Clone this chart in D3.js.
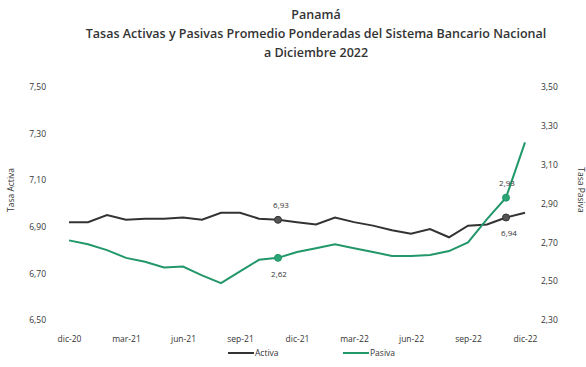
<!DOCTYPE html>
<html>
<head>
<meta charset="utf-8">
<script src="https://cdn.jsdelivr.net/npm/d3@7"></script>
<style>
  body { margin: 0; background: #fff; }
  text { font-family: "Open Sans", sans-serif; fill: #333; }
</style>
</head>
<body>
<div id="chart"></div>
<script>
// monthly values, dic-20 .. dic-22
const months = ["dic-20","ene-21","feb-21","mar-21","abr-21","may-21","jun-21","jul-21","ago-21","sep-21","oct-21","nov-21",
  "dic-21","ene-22","feb-22","mar-22","abr-22","may-22","jun-22","jul-22","ago-22","sep-22","oct-22","nov-22","dic-22"];
const activa = [6.92,6.92,6.95,6.93,6.935,6.935,6.94,6.93,6.96,6.96,6.935,6.93,
  6.92,6.91,6.94,6.92,6.905,6.885,6.87,6.89,6.855,6.905,6.91,6.94,6.96];
const pasiva = [2.71,2.69,2.66,2.62,2.60,2.57,2.575,2.53,2.49,2.55,2.61,2.62,
  2.65,2.67,2.69,2.67,2.65,2.63,2.63,2.635,2.655,2.70,2.82,2.93,3.215];
const tickMonths = ["dic-20","mar-21","jun-21","sep-21","dic-21","mar-22","jun-22","sep-22","dic-22"];
const leftTicks = [6.5,6.7,6.9,7.1,7.3,7.5];
const rightTicks = [2.3,2.5,2.7,2.9,3.1,3.3,3.5];
const markedMonths = ["nov-21","nov-22"];

const width = 586, height = 367;
const svg = d3.select("#chart").append("svg")
  .attr("width", width).attr("height", height);

const x = d3.scalePoint().domain(months).range([69, 525]);
const yL = d3.scaleLinear().domain([6.5, 7.5]).range([320, 87]);
const yR = d3.scaleLinear().domain([2.3, 3.5]).range([320, 87]);
const fmt = d => d3.format(".2f")(d).replace(".", ",");

// title
const title = ["Panamá",
  "Tasas Activas y Pasivas Promedio Ponderadas del Sistema Bancario Nacional",
  "a Diciembre 2022"];
svg.selectAll(".title").data(title).enter().append("text")
  .attr("x", 316).attr("y", (d, i) => 19 + i * 19)
  .attr("text-anchor", "middle")
  .attr("font-size", 12.5).attr("font-weight", 600)
  .text(d => d);

// axes (no lines, just labels)
const axL = svg.append("g").attr("transform", "translate(49,0)")
  .call(d3.axisLeft(yL).tickValues(leftTicks).tickFormat(fmt).tickSize(0));
const axR = svg.append("g").attr("transform", "translate(538,0)")
  .call(d3.axisRight(yR).tickValues(rightTicks).tickFormat(fmt).tickSize(0));
const axX = svg.append("g").attr("transform", "translate(0,333)")
  .call(d3.axisBottom(x).tickValues(tickMonths).tickSize(0));
[axL, axR, axX].forEach(a => {
  a.select(".domain").remove();
  a.selectAll("text").attr("font-family", "Open Sans").attr("font-size", 8.5).attr("fill", "#333");
});

svg.append("text").attr("transform", "translate(14,190) rotate(-90)")
  .attr("text-anchor", "middle").attr("font-size", 8.5).text("Tasa Activa");
svg.append("text").attr("transform", "translate(578,190) rotate(90)")
  .attr("text-anchor", "middle").attr("font-size", 8.5).text("Tasa Pasiva");

// lines
const lineA = d3.line().x((d, i) => x(months[i])).y(d => yL(d));
const lineP = d3.line().x((d, i) => x(months[i])).y(d => yR(d));
svg.append("path").datum(activa).attr("d", lineA)
  .attr("fill", "none").attr("stroke", "#333").attr("stroke-width", 2);
svg.append("path").datum(pasiva).attr("d", lineP)
  .attr("fill", "none").attr("stroke", "#22976a").attr("stroke-width", 2);

// markers + labels
markedMonths.forEach((m, k) => {
  const i = months.indexOf(m);
  svg.append("circle").attr("cx", x(m)).attr("cy", yL(activa[i])).attr("r", 3.5)
    .attr("fill", "#555").attr("stroke", "#333");
  svg.append("circle").attr("cx", x(m)).attr("cy", yR(pasiva[i])).attr("r", 3.5)
    .attr("fill", "#2aa574").attr("stroke", "#22976a");
  const aboveA = k === 0;
  svg.append("text").attr("x", x(m) + 3).attr("y", yL(activa[i]) + (aboveA ? -12 : 19))
    .attr("text-anchor", "middle").attr("font-size", 8).text(fmt(activa[i]));
  svg.append("text").attr("x", x(m) + 1).attr("y", yR(pasiva[i]) + (aboveA ? 19 : -12))
    .attr("text-anchor", "middle").attr("font-size", 8).text(fmt(pasiva[i]));
});

// legend
const legend = [{name: "Activa", color: "#333", x: 228}, {name: "Pasiva", color: "#22976a", x: 343}];
legend.forEach(l => {
  svg.append("line").attr("x1", l.x).attr("x2", l.x + 26).attr("y1", 353).attr("y2", 353)
    .attr("stroke", l.color).attr("stroke-width", 2);
  svg.append("text").attr("x", l.x + 27).attr("y", 356).attr("font-size", 8.5).text(l.name);
});
</script>
</body>
</html>
